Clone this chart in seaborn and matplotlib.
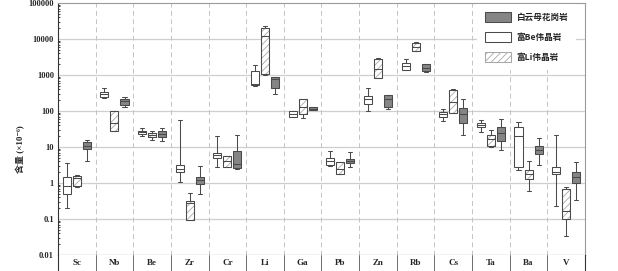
#!/usr/bin/env python3
"""
Box plots of trace element contents (log scale) for three rock groups.
"""

import numpy as np
import pandas as pd
import seaborn as sns
import matplotlib.pyplot as plt
from matplotlib.patches import Patch, PathPatch

# Elements shown along the x axis
elements = ['Sc', 'Nb', 'Be', 'Zr', 'Cr', 'Li', 'Ga', 'Pb', 'Zn', 'Rb', 'Cs', 'Ta', 'Ba', 'V']

# Group names (legend text)
groups = ['富Be伟晶岩', '富Li伟晶岩', '白云母花岗岩']

# Five-number summaries per element: [min, Q1, median, Q3, max]  (x10^-6)
be_pegmatite = [
    [0.2, 0.5, 0.85, 1.5, 3.7],
    [230, 250, 290, 330, 440],
    [20, 23, 26, 28, 33],
    [1.07, 2.05, 2.5, 3.1, 56],
    [2.75, 5.1, 6.0, 6.9, 20],
    [500, 520, 560, 1260, 1900],
    [66, 69, 80, 98, 100],
    [3.0, 3.1, 4.2, 5.1, 7.6],
    [102, 158, 210, 257, 440],
    [1400, 1420, 1800, 2180, 2800],
    [52, 69, 80, 93, 115],
    [26, 36, 42, 47, 55],
    [2.3, 2.75, 20, 36, 49],
    [0.23, 1.8, 2.0, 2.75, 22],
]
li_pegmatite = [
    [0.75, 0.8, 1.4, 1.6, 1.65],
    [27, 27, 47, 100, 100],
    [16, 19, 21, 25, 28],
    [0.093, 0.095, 0.28, 0.31, 0.53],
    [2.75, 2.8, 4.0, 5.5, 5.6],
    [1030, 1100, 12500, 20400, 23000],
    [65, 80, 130, 218, 222],
    [1.8, 1.8, 2.5, 3.8, 3.85],
    [800, 830, 1500, 2800, 2900],
    [4500, 4570, 6000, 7800, 8000],
    [89, 90, 180, 380, 415],
    [10, 10.5, 17, 21, 29],
    [0.59, 1.33, 1.75, 2.27, 4.2],
    [0.033, 0.1, 0.165, 0.66, 0.78],
]
granite = [
    [4.2, 9.0, 11, 14, 15.5],
    [127, 151, 187, 218, 240],
    [15, 19, 23, 27, 33],
    [0.48, 0.95, 1.2, 1.5, 3.0],
    [2.5, 2.55, 3.4, 7.8, 22],
    [295, 440, 780, 890, 900],
    [104, 105, 117, 130, 131],
    [2.8, 3.6, 4.1, 4.7, 7.2],
    [115, 131, 218, 275, 280],
    [1200, 1260, 1600, 1960, 2000],
    [22, 47, 80, 123, 218],
    [8.5, 14.5, 25, 36, 60],
    [3.1, 6.2, 8.2, 10.5, 18],
    [0.33, 1.0, 1.45, 2.05, 3.8],
]

ytick_values = [0.01, 0.1, 1, 10, 100, 1000, 10000, 100000]
ytick_labels = ['0.01', '0.1', '1', '10', '100', '1000', '10000', '100000']

# long-form table for seaborn
rows = []
for name, table in zip(groups, [be_pegmatite, li_pegmatite, granite]):
    for el, vals in zip(elements, table):
        for v in vals:
            rows.append({'element': el, 'group': name, 'value': v})
df = pd.DataFrame(rows)

sns.set_theme(style='white')
serif = ['Liberation Serif', 'Noto Sans CJK SC', 'DejaVu Sans']
cjk = ['Noto Sans CJK SC', 'DejaVu Sans']
plt.rcParams['font.family'] = serif
plt.rcParams['hatch.linewidth'] = 0.6

LINE = '#4a4a4a'
GRAY = '#858585'
HATCH_LINE = '#a8a8a8'
HATCH_FACE = '#fefefe'
palette = {'富Be伟晶岩': 'white', '富Li伟晶岩': HATCH_FACE, '白云母花岗岩': GRAY}

fig = plt.figure(figsize=(6.18, 2.71), dpi=100)
ax = fig.add_axes([58 / 618, 16 / 271, 527 / 618, 252 / 271])
strip = fig.add_axes([58 / 618, 0, 527 / 618, 16 / 271])

sns.boxplot(
    data=df, x='element', y='value', hue='group',
    order=elements, hue_order=groups, palette=palette,
    whis=(0, 100), log_scale=True, saturation=1,
    width=0.8, gap=0.2, linecolor=LINE, linewidth=0.75,
    legend=False, ax=ax, zorder=3,
)

# hatched boxes: light hatch, then redraw the dark outline on top
for p in list(ax.patches):
    fc = p.get_facecolor()
    if abs(fc[0] - 254 / 255) < 1e-3:
        p.set_hatch('/////')
        p.set_facecolor('white')
        p.set_edgecolor(HATCH_LINE)
        outline = PathPatch(p.get_path(), transform=p.get_transform(),
                            fill=False, edgecolor=LINE, linewidth=0.75, zorder=3.5)
        ax.add_patch(outline)

n = len(elements)
ax.set_xlim(-0.5, n - 0.5)
ax.set_ylim(0.01, 100000)
ax.set_yticks(ytick_values)
ax.set_yticklabels(ytick_labels, fontsize=6, fontweight='bold')
ax.set_xticks([])
ax.set_xlabel('')
ax.set_ylabel('含量 (×10⁻⁶)', fontsize=6.5, fontweight='bold', family=serif)
ax.yaxis.set_label_coords(-0.062, 0.42)
ax.tick_params(axis='y', which='both', direction='in', left=True, length=3, width=0.6, pad=3)
ax.tick_params(axis='y', which='minor', length=1.5)

# grid
for yv in ytick_values[1:-1]:
    ax.axhline(yv, color='#cfcfcf', lw=0.9, zorder=1)
for i in range(n - 1):
    ax.axvline(i + 0.5, color='#c4c4c4', lw=0.7, ls=(0, (5, 3.5)), zorder=1)

for side in ['top', 'right']:
    ax.spines[side].set_color('#9a9a9a')
    ax.spines[side].set_linewidth(0.8)
for side in ['left', 'bottom']:
    ax.spines[side].set_color('#333333')
    ax.spines[side].set_linewidth(0.8)

# element label strip
strip.set_xlim(-0.5, n - 0.5)
strip.set_ylim(0, 1)
strip.set_yticks([])
strip.set_xticks([])
for i in range(n - 1):
    strip.axvline(i + 0.5, color='#555555', lw=0.6)
for i, el in enumerate(elements):
    strip.text(i, 0.5, el, ha='center', va='center', fontsize=6.5, fontweight='bold')
for side in ['left', 'right']:
    strip.spines[side].set_color('#333333')
    strip.spines[side].set_linewidth(0.8)
strip.spines['top'].set_visible(False)
strip.spines['bottom'].set_visible(False)

# legend
handles = [
    Patch(facecolor=GRAY, edgecolor=LINE, linewidth=0.75),
    Patch(facecolor='white', edgecolor=LINE, linewidth=0.75),
    Patch(facecolor='white', edgecolor=HATCH_LINE, linewidth=0.75, hatch='/////'),
]
labels = ['白云母花岗岩', '富Be伟晶岩', '富Li伟晶岩']
leg = ax.legend(handles, labels, loc='upper right', bbox_to_anchor=(0.985, 1.0),
                prop={'family': cjk, 'size': 6.2, 'weight': 'bold'},
                handlelength=3.0, handleheight=1.45, handletextpad=0.7,
                labelspacing=1.15, borderpad=0.9, borderaxespad=0.1,
                frameon=True, fancybox=False, framealpha=1)
leg.get_frame().set_edgecolor('none')
leg.get_frame().set_facecolor('white')
leg.set_zorder(5)

fig.savefig('out.png', dpi=100)
